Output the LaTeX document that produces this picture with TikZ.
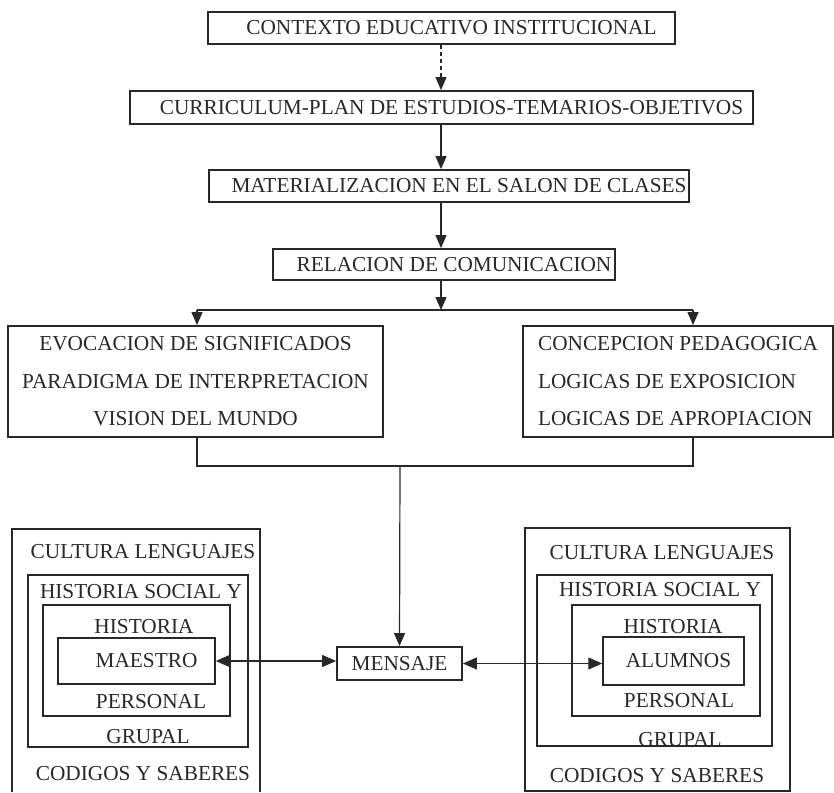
\documentclass[tikz,border=0pt]{standalone}
\usepackage{fontspec}
\setmainfont{Liberation Serif}
\usetikzlibrary{arrows.meta}
\definecolor{ink}{RGB}{40,40,40}
\tikzset{
  lead/.style={execute at begin node={\hspace*{#1}}},
  box/.style={draw=ink, line width=1.8pt, inner sep=0pt, text=ink},
  topbox/.style={box, lead=20pt},
  frame/.style={draw=ink, line width=1.5pt, inner sep=0pt, text=ink},
  word/.style={text=ink, inner sep=0pt},
  link/.style={draw=ink, line width=1.2pt},
  arr/.style={link, -{Triangle[length=13pt,width=11pt]}},
  darr/.style={link, {Triangle[length=14pt,width=12pt]}-{Triangle[length=14pt,width=12pt]}},
  tall/.style={font=\fontsize{21.3}{37.5}\selectfont},
}
\begin{document}
\begin{tikzpicture}[x=1pt,y=-1pt,font=\fontsize{21.3}{25}\selectfont]
\useasboundingbox (0,0) rectangle (834,792);
\coordinate (spine) at (441,0);
%%% main column
\node[topbox,minimum width=467,minimum height=32] (contexto) at (441.5,28) {CONTEXTO EDUCATIVO INSTITUCIONAL};
\node[topbox,minimum width=623,minimum height=33] (curriculum) at (441.5,107.5) {CURRICULUM-PLAN DE ESTUDIOS-TEMARIOS-OBJETIVOS};
\node[topbox,minimum width=480,minimum height=32] (salon) at (449,186) {MATERIALIZACION EN EL SALON DE CLASES};
\node[topbox,minimum width=342,minimum height=31] (relacion) at (444,264.5) {RELACION DE COMUNICACION};
\draw[arr,dash pattern=on 4pt off 3pt] (contexto.south -| spine) -- (curriculum.north -| spine);
\draw[arr] (curriculum.south -| spine) -- (salon.north -| spine);
\draw[arr] (salon.south -| spine) -- (relacion.north -| spine);
%%% fork
\coordinate (forkL) at (197,310);
\coordinate (forkR) at (693,310);
\draw[arr] (relacion.south -| spine) -- (spine |- forkL);
\draw[link] (forkL) -- (forkR);
\node[box,tall,align=center,minimum width=375,minimum height=111] (evocacion) at (195.5,381.5) {EVOCACION DE SIGNIFICADOS\\PARADIGMA DE INTERPRETACION\\VISION DEL MUNDO};
\node[box,tall,align=left,minimum width=310,minimum height=111] (concepcion) at (678,381.5) {CONCEPCION PEDAGOGICA\\LOGICAS DE EXPOSICION\\LOGICAS DE APROPIACION};
\draw[arr] (forkL) -- (forkL |- evocacion.north);
\draw[arr] (forkR) -- (forkR |- concepcion.north);
\coordinate (join) at (400,466);
\draw[link] (evocacion.south -| forkL) |- (join) -| (concepcion.south -| forkR);
\node[box,minimum width=125,minimum height=33] (mensaje) at (399.5,663.5) {MENSAJE};
\draw[arr] (join) -- (mensaje.north);
%%% maestro side
\node[minimum width=248,minimum height=263,inner sep=0pt] (culturaL) at (136,660.5) {};
\draw[frame] (culturaL.south west) |- (culturaL.north east) -- (culturaL.south east);
\node[frame,minimum width=220,minimum height=172] (socialL) at (138,661) {};
\node[frame,minimum width=187,minimum height=111] (personalL) at (136.5,660.5) {};
\node[frame,lead=20pt,minimum width=157,minimum height=46] (maestro) at (136.5,661) {MAESTRO};
\node[word] (culturaTxtL) at (143,552) {CULTURA LENGUAJES};
\node[word] (socialTxtL) at (141,592) {HISTORIA SOCIAL Y};
\node[word] (historiaTxtL) at (144,627) {HISTORIA};
\node[word] (personalTxtL) at (151,702) {PERSONAL};
\node[word] (grupalTxtL) at (148,737) {GRUPAL};
\node[word] (codigosTxtL) at (143,774) {CODIGOS Y SABERES};
%%% alumnos side
\node[frame,minimum width=265,minimum height=263] (culturaR) at (657.5,659.5) {};
\node[frame,minimum width=235,minimum height=171] (socialR) at (654.5,660.5) {};
\node[frame,minimum width=188,minimum height=111] (personalR) at (666,660.5) {};
\node[frame,lead=10pt,minimum width=141,minimum height=48] (alumnos) at (673.5,661) {ALUMNOS};
\node[word] (culturaTxtR) at (662,553) {CULTURA LENGUAJES};
\node[word] (socialTxtR) at (660,590) {HISTORIA SOCIAL Y};
\node[word] (historiaTxtR) at (673,627) {HISTORIA};
\node[word] (personalTxtR) at (679,701) {PERSONAL};
\node[word] (grupalTxtR) at (680,740) {GRUPAL};
\node[word] (codigosTxtR) at (657,776) {CODIGOS Y SABERES};
%%% mensaje links
\draw[darr] (maestro.east) -- (maestro.east -| mensaje.west);
\draw[darr] (mensaje.east) -- (mensaje.east -| alumnos.west);
\end{tikzpicture}
\end{document}
